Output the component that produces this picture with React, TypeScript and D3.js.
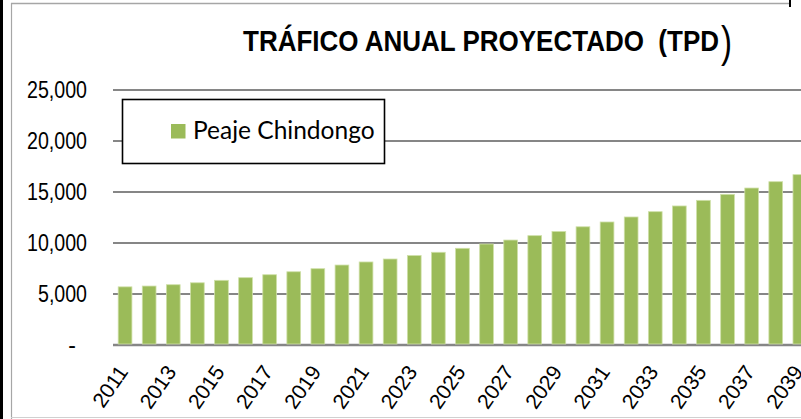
import React from "react";
import * as d3 from "d3";

const years: string[] = [
  "2011","2012","2013","2014","2015","2016","2017","2018","2019","2020",
  "2021","2022","2023","2024","2025","2026","2027","2028","2029","2030",
  "2031","2032","2033","2034","2035","2036","2037","2038","2039",
];
const traffic: number[] = [
  5700, 5780, 5910, 6100, 6340, 6600, 6890, 7180, 7480, 7840,
  8140, 8430, 8770, 9090, 9480, 9900, 10290, 10720, 11130, 11590,
  12060, 12550, 13070, 13630, 14180, 14770, 15390, 16010, 16700,
];
const yTicks: number[] = [0, 5000, 10000, 15000, 20000, 25000];
const yTickLabels: string[] = ["-", "5,000", "10,000", "15,000", "20,000", "25,000"];
const seriesName = "Peaje Chindongo";
const titleMain = "TRÁFICO ANUAL PROYECTADO  (TPD";
const titleClose = ")";

const W = 801;
const H = 419;
const GREEN = "#9BBB59";
const GRID = "#868686";

export default function App() {
  const step = 24.1;
  const x = d3
    .scaleBand<string>()
    .domain(years)
    .range([113, 113 + years.length * step])
    .paddingInner(0.43)
    .paddingOuter(0.215);
  const y = d3.scaleLinear().domain([0, 25000]).range([345, 90]);
  const labelYears = years.filter((_, i) => i % 2 === 0);

  return (
    <svg
      width={W}
      height={H}
      style={{ position: "absolute", left: 0, top: 0, background: "#fff" }}
    >
      <rect x={0} y={0} width={W} height={H} fill="#fff" />
      {/* frame */}
      <line x1={11} x2={790} y1={3.5} y2={3.5} stroke="#a6a6a6" strokeWidth={1.5} />
      <line x1={11.5} x2={11.5} y1={3} y2={H} stroke="#a6a6a6" strokeWidth={1.2} />
      <line x1={11} x2={W} y1={417.5} y2={417.5} stroke="#d0d0d0" strokeWidth={1.2} />
      <rect x={0} y={0} width={3} height={H} fill="#000" />
      <rect x={789} y={0} width={2} height={7} fill="#000" />

      {/* title: one text element, closing paren larger */}
      <text
        x={243}
        y={51}
        fontFamily="'Liberation Sans', Arial, sans-serif"
        fontWeight="bold"
        fontSize={30}
        fill="#000"
        style={{ whiteSpace: "pre" }}
      >
        <tspan textLength={476} lengthAdjust="spacingAndGlyphs">{titleMain}</tspan>
        <tspan x={721} y={57} fontSize={44} fontWeight="normal" textLength={11} lengthAdjust="spacingAndGlyphs">{titleClose}</tspan>
      </text>

      {/* gridlines */}
      {yTicks.map((t) => (
        <line
          key={"g" + t}
          x1={113}
          x2={W}
          y1={y(t)}
          y2={y(t)}
          stroke={GRID}
          strokeWidth={t === 0 ? 2.5 : 2}
        />
      ))}

      {/* y labels */}
      {yTicks.map((t, i) => {
        const lbl = yTickLabels[i];
        const len = lbl.length === 6 ? 60 : lbl.length === 5 ? 49 : undefined;
        return (
          <text
            key={"yl" + t}
            x={t === 0 ? 76 : 87}
            y={y(t)}
            dy="0.36em"
            textAnchor="end"
            fontFamily="'Liberation Sans', Arial, sans-serif"
            fontSize={23}
            fill="#000"
            textLength={len}
            lengthAdjust={len ? "spacingAndGlyphs" : undefined}
          >
            {lbl}
          </text>
        );
      })}

      {/* bars */}
      {years.map((yr, i) => (
        <rect
          key={yr}
          x={x(yr)!}
          y={y(traffic[i])}
          width={x.bandwidth()}
          height={y(0) - y(traffic[i]) - 1}
          fill={GREEN}
          stroke="#cfe0a8"
          strokeWidth={0.8}
        />
      ))}

      {/* x labels */}
      {labelYears.map((yr) => {
        const cx = x(yr)! + x.bandwidth() / 2 + 4;
        const cy = 372;
        return (
          <text
            key={"xl" + yr}
            transform={`translate(${cx},${cy}) rotate(-55)`}
            textAnchor="end"
            fontFamily="'Liberation Sans', Arial, sans-serif"
            fontSize={21}
            fill="#000"
          >
            {yr}
          </text>
        );
      })}

      {/* legend */}
      <rect x={122.5} y={99.5} width={262} height={64} fill="#fff" stroke="#000" strokeWidth={1.6} />
      <rect x={171} y={124} width={14.5} height={14.5} fill={GREEN} />
      <text
        x={193}
        y={139}
        fontFamily="Lato, 'Open Sans', sans-serif"
        fontSize={24.5}
        fill="#000"
      >
        {seriesName}
      </text>
    </svg>
  );
}
